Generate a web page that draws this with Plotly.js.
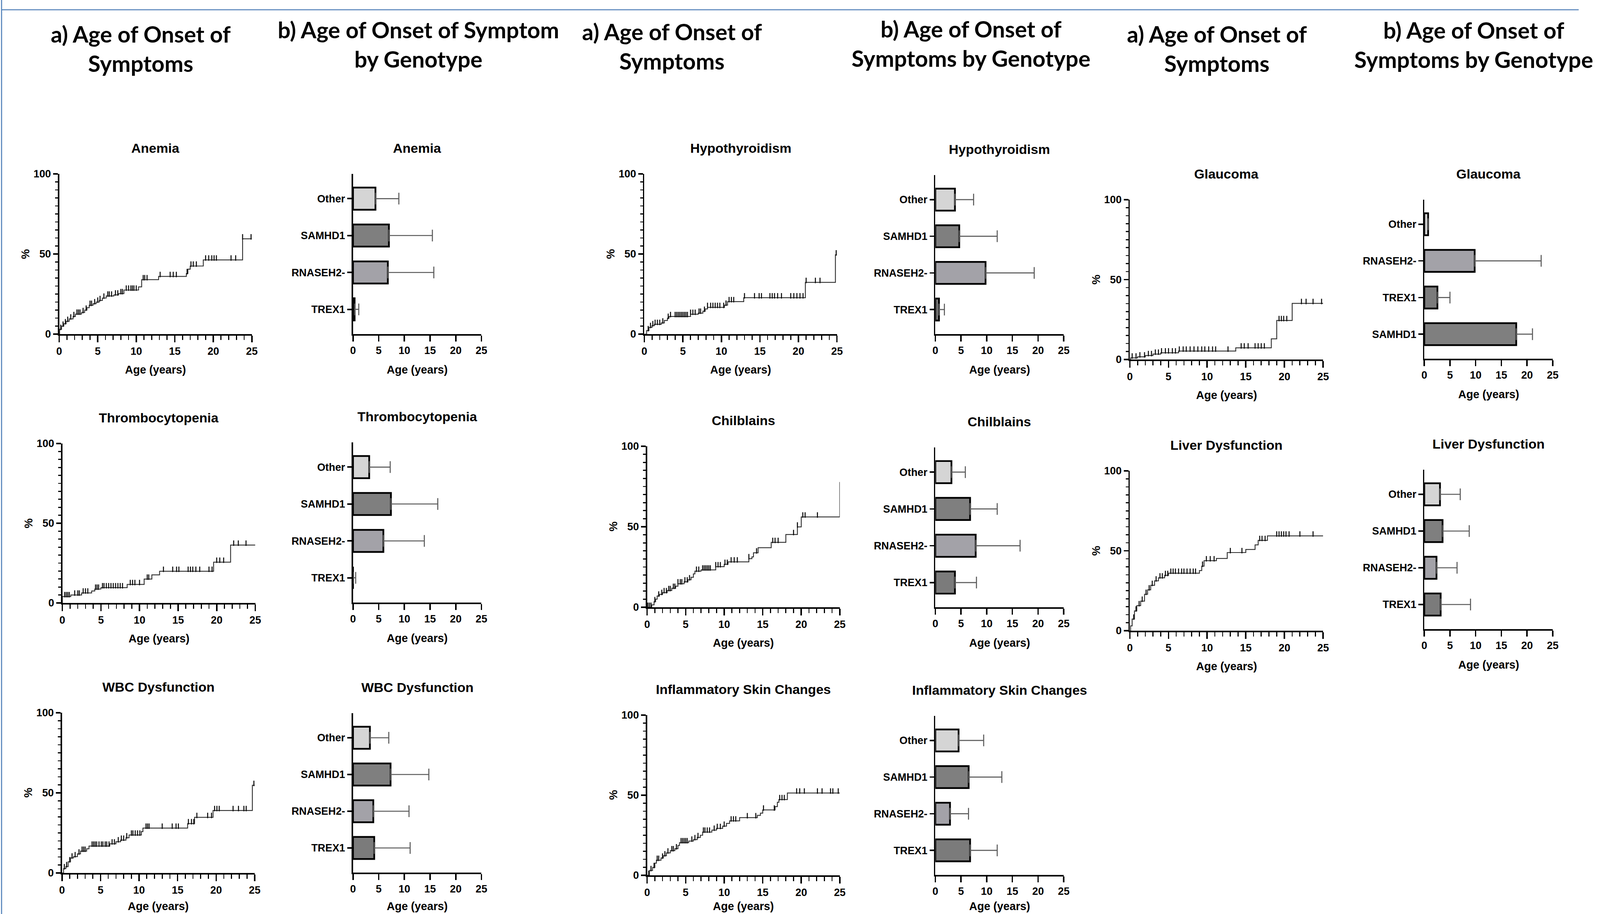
<!DOCTYPE html>
<html><head><meta charset="utf-8">
<script src="https://cdn.plot.ly/plotly-3.0.1.min.js"></script>
<style>html,body{margin:0;padding:0;background:#fff;overflow:hidden;width:100%;height:100%}#chart{position:absolute;left:0;top:0}</style>
</head><body><div id="chart"></div>
<script>
// ---------------- DATA ----------------
const ageTicks = [0, 5, 10, 15, 20, 25];
const pctTicks = [0, 50, 100];
const genotypes = ['Other', 'SAMHD1', 'RNASEH2-', 'TREX1'];
const genotypesGlaucoma = ['Other', 'RNASEH2-', 'TREX1', 'SAMHD1'];

// cumulative onset curves: step times (years), cumulative % after each step, censored ages
const anemiaT = [0, 0.05, 0.3, 0.6, 0.9, 1.3, 1.8, 2.1, 2.9, 3.3, 3.6, 3.9, 4.4, 4.8, 5.2, 5.6, 6.1, 7.1, 7.7, 8.4, 10.3, 10.7, 12.9, 16.5, 16.7, 17.0, 18.7, 23.8];
const anemiaY = [0, 3, 5, 6.5, 8, 9.5, 11, 12.5, 13.5, 15, 16.5, 18, 19, 20, 21, 22.5, 23.8, 24.5, 25.3, 27.5, 29.5, 34, 36, 37.8, 40.5, 42.5, 46.3, 59.5];
const anemiaCens = [0.2, 0.5, 0.8, 1.1, 1.5, 1.9, 2.3, 2.5, 2.7, 3.1, 3.5, 4.0, 4.2, 4.6, 5.0, 5.3, 5.8, 6.3, 6.5, 6.8, 7.3, 7.6, 8.0, 8.2, 8.7, 9.0, 9.3, 9.5, 9.7, 10.0, 10.9, 11.1, 11.4, 13.1, 14.4, 14.8, 15.2, 16.6, 17.1, 17.4, 17.8, 19.0, 19.4, 19.8, 20.1, 20.4, 22.3, 22.9, 23.8, 24.9];

const thromboT = [0, 0, 1.1, 2.5, 3.8, 4.2, 5.0, 8.4, 10.6, 11.6, 12.6, 19.6, 21.8];
const thromboY = [0, 4.0, 5.0, 6.3, 7.5, 8.7, 9.6, 11.6, 15.0, 17.6, 19.9, 25.6, 36.3];
const thromboCens = [0.3, 0.5, 0.7, 0.9, 1.6, 2.0, 2.2, 2.7, 3.0, 3.3, 4.3, 4.5, 4.7, 5.2, 5.4, 5.7, 6.0, 6.3, 6.6, 6.9, 7.2, 7.5, 7.8, 8.8, 9.1, 9.4, 10.0, 11.0, 11.2, 13.1, 14.3, 14.8, 15.1, 16.3, 16.6, 16.9, 17.3, 17.8, 19.0, 19.4, 20.0, 20.4, 20.9, 22.2, 22.8, 23.8];

const wbcT = [0, 0.2, 0.5, 0.8, 1.1, 1.5, 2.0, 2.4, 3.2, 3.5, 6.2, 7.0, 7.6, 8.3, 8.7, 10.3, 10.5, 16.3, 17.2, 19.6, 24.7];
const wbcY = [0, 2.7, 4.0, 7.0, 9.4, 10.2, 11.9, 13.6, 15.1, 16.8, 18.2, 19.5, 20.5, 22.0, 23.7, 25.8, 28.0, 30.8, 34.7, 39.0, 54.7];
const wbcCens = [0.3, 0.6, 1.0, 1.3, 1.7, 2.2, 2.6, 2.8, 3.0, 3.9, 4.1, 4.3, 4.5, 4.8, 5.1, 5.3, 5.6, 5.8, 6.1, 6.5, 6.8, 7.3, 7.7, 8.0, 8.4, 9.0, 9.2, 9.5, 9.8, 10.1, 10.9, 11.1, 11.3, 13.0, 14.3, 14.8, 15.1, 16.4, 16.8, 17.1, 17.5, 18.9, 19.4, 19.8, 20.1, 20.4, 22.2, 22.9, 23.6, 23.9, 24.9];

const hypoT = [0, 0.3, 0.6, 1.0, 1.3, 2.2, 2.6, 3.0, 3.2, 6.0, 7.0, 7.6, 7.9, 8.2, 10.4, 10.8, 12.9, 20.9, 24.8];
const hypoY = [0, 2.2, 4.2, 5.3, 6.1, 7.0, 8.5, 9.9, 11.0, 12.4, 13.1, 14.3, 15.7, 16.7, 18.1, 20.3, 22.7, 32.3, 49.5];
const hypoCens = [0.5, 0.8, 1.1, 1.4, 1.7, 2.0, 2.4, 3.1, 3.4, 4.0, 4.2, 4.4, 4.6, 4.8, 5.0, 5.2, 5.4, 5.6, 6.0, 6.3, 6.6, 7.1, 7.3, 7.8, 8.2, 8.6, 8.9, 9.2, 9.5, 9.8, 10.3, 10.6, 11.0, 11.3, 11.6, 13.0, 14.3, 14.9, 15.2, 16.3, 16.6, 16.9, 17.3, 17.8, 19.0, 19.4, 19.8, 20.2, 20.6, 21.0, 22.2, 22.8, 24.9];

const chilT = [0, 0.6, 0.9, 1.1, 1.3, 1.6, 2.0, 2.6, 3.2, 3.7, 4.0, 4.8, 5.3, 5.7, 6.0, 6.2, 7.0, 8.9, 10.0, 10.5, 13.2, 13.6, 13.8, 14.4, 16.1, 18.0, 19.5, 20.0, 25.0];
const chilY = [0, 1.5, 3.5, 5.0, 7.0, 8.0, 9.1, 10.4, 11.8, 13.1, 14.6, 15.8, 17.1, 18.6, 20.7, 22.4, 23.2, 25.2, 26.7, 28.2, 30.2, 31.3, 33.8, 37.0, 40.3, 45.2, 49.9, 56.1, 77.8];
const chilCens = [0.1, 0.3, 0.5, 1.0, 1.5, 1.9, 2.2, 2.5, 2.8, 3.0, 3.4, 3.6, 4.0, 4.3, 4.5, 4.9, 5.2, 5.5, 6.4, 6.7, 7.2, 7.4, 7.6, 7.8, 8.0, 8.2, 8.9, 9.2, 9.5, 10.1, 10.4, 10.9, 11.3, 11.7, 13.2, 14.2, 16.3, 16.6, 17.0, 19.0, 19.5, 20.2, 20.5, 22.1];

const skinT = [0, 0.3, 0.7, 1.0, 1.2, 1.8, 2.1, 2.5, 3.0, 3.6, 4.0, 4.2, 5.4, 6.0, 6.5, 6.9, 7.2, 8.4, 9.0, 9.8, 10.3, 10.7, 12.0, 14.3, 14.7, 15.0, 16.6, 16.9, 17.1, 18.2];
const skinY = [0, 3.0, 4.9, 7.6, 9.4, 10.8, 12.2, 14.0, 15.4, 16.6, 18.6, 20.4, 21.4, 22.3, 23.6, 25.0, 27.0, 28.2, 29.3, 30.7, 32.4, 34.0, 36.0, 37.4, 38.8, 40.8, 42.9, 45.6, 47.3, 51.4];
const skinCens = [0.2, 0.5, 0.9, 1.3, 1.5, 2.0, 2.3, 2.7, 3.2, 3.4, 3.8, 4.4, 4.6, 4.8, 5.0, 5.2, 5.8, 6.2, 6.6, 7.3, 7.5, 7.8, 8.1, 8.7, 9.1, 9.5, 10.0, 10.9, 11.2, 11.5, 13.0, 14.1, 15.1, 16.5, 17.2, 17.5, 17.8, 19.4, 19.8, 20.4, 22.1, 22.7, 23.8, 24.1, 24.8];

const glaucT = [0, 0.1, 1.0, 2.0, 3.0, 4.0, 6.3, 13.7, 18.3, 19.0, 21.0];
const glaucY = [0, 1.0, 1.7, 2.5, 3.4, 4.2, 5.3, 7.3, 12.9, 24.4, 35.1];
const glaucCens = [0.3, 0.8, 1.3, 1.9, 2.4, 2.8, 3.3, 3.7, 4.1, 4.6, 5.0, 5.5, 5.9, 6.4, 6.9, 7.3, 7.8, 8.3, 8.8, 9.3, 9.7, 10.2, 10.7, 11.1, 12.7, 14.4, 14.8, 15.3, 16.2, 16.6, 17.0, 17.4, 19.3, 19.6, 19.9, 20.3, 22.2, 22.8, 23.7, 24.8];

const liverT = [0, 0.1, 0.3, 0.6, 0.9, 1.4, 1.9, 2.3, 2.7, 3.2, 3.7, 4.5, 5.0, 9.0, 9.3, 9.6, 11.2, 12.6, 15.0, 16.2, 16.6, 17.8];
const liverY = [0, 3.0, 7.3, 12.4, 15.7, 18.5, 22.8, 25.6, 28.4, 31.2, 33.1, 34.6, 36.0, 37.6, 40.4, 43.8, 45.2, 48.9, 50.8, 53.7, 56.5, 59.3];
const liverCens = [0.5, 0.8, 1.2, 1.6, 2.1, 2.5, 2.9, 3.4, 3.9, 4.2, 4.6, 4.9, 5.3, 5.6, 5.9, 6.3, 6.7, 7.0, 7.4, 7.8, 8.2, 8.5, 9.4, 9.9, 10.4, 10.9, 13.0, 14.5, 16.8, 17.1, 17.5, 19.0, 19.3, 19.6, 19.9, 20.2, 20.6, 22.0, 23.7];

// mean age of onset (years) and SD by genotype (same order as the category list)
const anemiaMean = [4.37, 6.99, 6.78, 0.31],  anemiaSD = [4.55, 8.46, 8.95, 0.81];
const thromboMean = [3.15, 7.38, 5.91, 0],    thromboSD = [4.09, 9.12, 7.97, 0.52];
const wbcMean = [3.29, 7.31, 3.95, 4.13],     wbcSD = [3.67, 7.45, 6.95, 6.99];
const hypoMean = [3.82, 4.66, 9.78, 0.71],    hypoSD = [3.63, 7.39, 9.47, 1.06];
const chilMean = [3.14, 6.77, 7.86, 3.82],    chilSD = [2.70, 5.28, 8.64, 4.19];
const skinMean = [4.53, 6.49, 2.86, 6.77],    skinSD = [4.88, 6.46, 3.60, 5.28];
const glaucMean = [0.75, 9.81, 2.56, 17.9],   glaucSD = [0, 12.94, 2.44, 3.16];
const liverMean = [3.06, 3.56, 2.38, 3.19],   liverSD = [3.94, 5.19, 4.00, 5.81];

// ---------------- STYLE / LAYOUT ----------------
// design space 5108 x 2339, stretched to fill the real viewport
const W = 5108, H = 2339;
const vw = window.innerWidth || W, vh = window.innerHeight || H;
const sx = vw / W, sy = vh / H;
const sf = Math.sqrt(sx * sy);
const F = v => v * sf;      // fonts / generic widths
const PX = v => v * sx;     // horizontal lengths
const PY = v => v * sy;     // vertical lengths

const FONT = 'Liberation Sans, Arial, Helvetica, sans-serif';
const HFONT = 'Lato, Carlito, Calibri, sans-serif';
const genoColor = {'Other': '#d5d5d5', 'SAMHD1': '#7f7f7f', 'RNASEH2-': '#a3a2a8', 'TREX1': '#7b7b7b'};

const traces = [];
const annotations = [];
const layout = {
  width: vw, height: vh, margin: {l: 0, r: 0, t: 0, b: 0, pad: 0},
  paper_bgcolor: '#fff', plot_bgcolor: 'rgba(0,0,0,0)', showlegend: false,
  font: {family: FONT, color: '#000'},
  annotations: annotations,
  shapes: [
    {type: 'line', xref: 'paper', yref: 'paper', x0: 5 / W, x1: 5 / W, y0: 0, y1: 1, line: {color: '#4f7fb8', width: F(3)}},
    {type: 'line', xref: 'paper', yref: 'paper', x0: 5 / W, x1: 5040 / W, y0: 1 - 25 / H, y1: 1 - 25 / H, line: {color: '#4f7fb8', width: F(3)}}
  ]
};

let axN = 0;
function axKeys() {
  axN += 1;
  const k = axN === 1 ? '' : String(axN);
  return {xk: 'xaxis' + k, yk: 'yaxis' + k, xr: 'x' + k, yr: 'y' + k};
}
function dom(box) {
  return {xd: [box[0] / W, box[1] / W], yd: [1 - box[3] / H, 1 - box[2] / H]};
}
const tickFont = {family: FONT, size: F(30), color: '#000', weight: 'bold'};

function addTitles(box, name, ytitle) {
  const cx = (box[0] + box[1]) / 2 / W;
  annotations.push({xref: 'paper', yref: 'paper', x: cx, y: 1 - (box[2] - 66) / H, xanchor: 'center', yanchor: 'middle',
    text: '<b>' + name + '</b>', showarrow: false, font: {family: FONT, size: F(38), color: '#000'}});
  const ay = Math.min(box[3] + 91, H - 20);
  annotations.push({xref: 'paper', yref: 'paper', x: cx, y: 1 - ay / H, xanchor: 'center', yanchor: 'middle',
    text: '<b>Age (years)</b>', showarrow: false, font: {family: FONT, size: F(32), color: '#000'}});
  if (ytitle) {
    annotations.push({xref: 'paper', yref: 'paper', x: (box[0] - 108) / W, y: 1 - (box[2] + box[3]) / 2 / H, xanchor: 'center', yanchor: 'middle',
      text: '<b>%</b>', textangle: -90, showarrow: false, font: {family: FONT, size: F(32), color: '#000'}});
  }
}

function stepAt(T, Y, t) {
  let v = Y[0];
  for (let i = 0; i < T.length; i++) { if (T[i] <= t) v = Y[i]; }
  return v;
}

function baseAxis(extra) {
  return Object.assign({ticks: 'outside', tickcolor: '#000', showline: true, linewidth: F(4), linecolor: '#000',
    showgrid: false, zeroline: false, automargin: false, fixedrange: true, tickfont: tickFont}, extra);
}

function addKM(name, T, Y, C, box) {
  const k = axKeys(), d = dom(box);
  layout[k.xk] = baseAxis({domain: d.xd, anchor: k.yr, range: [0, 25], tickmode: 'array', tickvals: ageTicks, ticklen: PY(17), tickwidth: F(4),
    minor: {tickmode: 'linear', tick0: 0, dtick: 1, ticks: 'outside', ticklen: PY(11), tickwidth: F(3), tickcolor: '#000', showgrid: false}});
  layout[k.yk] = baseAxis({domain: d.yd, anchor: k.xr, range: [0, 100], tickmode: 'array', tickvals: pctTicks, ticklen: PX(15), tickwidth: F(4),
    minor: {tickmode: 'linear', tick0: 0, dtick: 5, ticks: 'outside', ticklen: PX(9), tickwidth: F(3), tickcolor: '#000', showgrid: false}});
  const lastY = Y[Y.length - 1];
  traces.push({type: 'scatter', mode: 'lines', x: T.concat([25]), y: Y.concat([lastY]), xaxis: k.xr, yaxis: k.yr,
    line: {shape: 'hv', color: '#2e2e2e', width: F(2.5)}, hoverinfo: 'skip', cliponaxis: false});
  traces.push({type: 'scatter', mode: 'markers', x: C, y: C.map(t => stepAt(T, Y, t) + 1.2), xaxis: k.xr, yaxis: k.yr,
    marker: {symbol: 'line-ns', size: PY(10), line: {width: F(3), color: '#111'}}, hoverinfo: 'skip', cliponaxis: false});
  addTitles(box, name, true);
}

function addBars(name, cats, means, sds, box) {
  const k = axKeys(), d = dom(box);
  layout[k.xk] = baseAxis({domain: d.xd, anchor: k.yr, range: [0, 25], tickmode: 'array', tickvals: ageTicks, ticklen: PY(15), tickwidth: F(4)});
  layout[k.yk] = baseAxis({domain: d.yd, anchor: k.xr, type: 'category', categoryorder: 'array', categoryarray: cats, range: [3.67, -0.67],
    ticklen: PX(14), tickwidth: F(4)});
  traces.push({type: 'bar', orientation: 'h', x: means, y: cats, xaxis: k.xr, yaxis: k.yr, width: 0.6,
    marker: {color: cats.map(c => genoColor[c]), line: {color: '#000', width: F(5)}},
    error_x: {type: 'data', symmetric: false, array: sds, arrayminus: sds.map(() => 0), color: '#5c5c5c', thickness: F(3), width: PY(15)},
    hoverinfo: 'skip', cliponaxis: false});
  addTitles(box, name, false);
}

// column 1
addKM('Anemia', anemiaT, anemiaY, anemiaCens, [189, 804, 445, 855]);
addKM('Thrombocytopenia', thromboT, thromboY, thromboCens, [199, 815, 1135, 1543]);
addKM('WBC Dysfunction', wbcT, wbcY, wbcCens, [198, 813, 1824, 2234]);
addBars('Anemia', genotypes, anemiaMean, anemiaSD, [1127, 1537, 445, 855]);
addBars('Thrombocytopenia', genotypes, thromboMean, thromboSD, [1127, 1537, 1132, 1542]);
addBars('WBC Dysfunction', genotypes, wbcMean, wbcSD, [1127, 1537, 1825, 2233]);
// column 2
addKM('Hypothyroidism', hypoT, hypoY, hypoCens, [2057, 2672, 445, 855]);
addKM('Chilblains', chilT, chilY, chilCens, [2066, 2681, 1142, 1554]);
addKM('Inflammatory Skin Changes', skinT, skinY, skinCens, [2066, 2681, 1830, 2240]);
addBars('Hypothyroidism', genotypes, hypoMean, hypoSD, [2986, 3396, 448, 855]);
addBars('Chilblains', genotypes, chilMean, chilSD, [2986, 3396, 1145, 1554]);
addBars('Inflammatory Skin Changes', genotypes, skinMean, skinSD, [2986, 3396, 1832, 2239]);
// column 3
addKM('Glaucoma', glaucT, glaucY, glaucCens, [3607, 4224, 511, 920]);
addKM('Liver Dysfunction', liverT, liverY, liverCens, [3607, 4224, 1205, 1614]);
addBars('Glaucoma', genotypesGlaucoma, glaucMean, glaucSD, [4547, 4957, 511, 918]);
addBars('Liver Dysfunction', genotypes, liverMean, liverSD, [4547, 4957, 1202, 1610]);

// section headers (sized with the horizontal scale so they keep the reference's horizontal spacing)
const headers = [
  {text: 'a) Age of Onset of<br>Symptoms', x: 449, y: 124},
  {text: 'b) Age of Onset of Symptom<br>by Genotype', x: 1336, y: 113},
  {text: 'a) Age of Onset of<br>Symptoms', x: 2145, y: 118},
  {text: 'b) Age of Onset of<br>Symptoms by Genotype', x: 3100, y: 111},
  {text: 'a) Age of Onset of<br>Symptoms', x: 3885, y: 124},
  {text: 'b) Age of Onset of<br>Symptoms by Genotype', x: 4705, y: 114}
];
headers.forEach(h => annotations.push({xref: 'paper', yref: 'paper', x: h.x / W, y: 1 - h.y / H, xanchor: 'center', yanchor: 'middle',
  text: '<b>' + h.text + '</b>', showarrow: false, align: 'center', font: {family: HFONT, size: PX(72), color: '#000'}}));

Plotly.newPlot('chart', traces, layout, {staticPlot: true, displayModeBar: false});
</script>
</body></html>
